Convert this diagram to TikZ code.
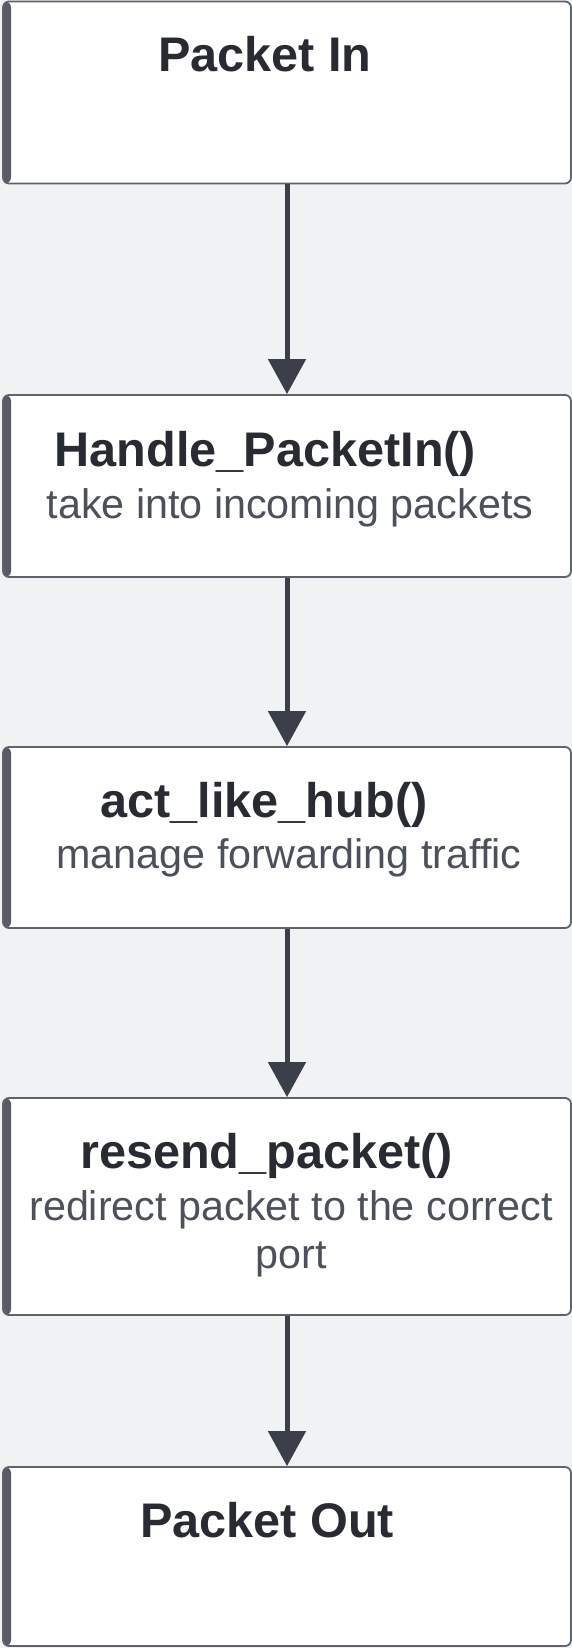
\documentclass[tikz,border=0pt]{standalone}
\usepackage{fontspec}
\setmainfont{Liberation Sans}
\usetikzlibrary{arrows.meta}
\definecolor{bgcol}{HTML}{F1F2F4}
\definecolor{bordercol}{HTML}{5E636E}
\definecolor{barcol}{HTML}{575B66}
\definecolor{arrowcol}{HTML}{3A3F4A}
\definecolor{titlecol}{HTML}{282B31}
\definecolor{subcol}{HTML}{4B505B}
\tikzset{
  procbox/.style={draw=bordercol, line width=1.8pt, fill=white, rounded corners=6pt,
    minimum width=568pt, inner sep=0pt,
    path picture={\fill[barcol] (path picture bounding box.north west) rectangle ([xshift=8pt]path picture bounding box.south west);}},
  titletext/.style={anchor=base, inner sep=0pt, text=titlecol, font=\fontsize{48.6}{56}\selectfont\bfseries},
  subtext/.style={anchor=base, inner sep=0pt, text=subcol, font=\fontsize{41.3}{48}\selectfont},
  flow/.style={draw=arrowcol, line width=5pt, -{Triangle[length=35pt,width=37pt]}, arrowcol}
}
\begin{document}
\begin{tikzpicture}[x=1pt,y=-1pt]
\fill[bgcol] (0,0) rectangle (572,1648);
\useasboundingbox (0,0) rectangle (572,1648);

\node[procbox, minimum height=182pt] (b1) at (287,92.5) {};
\node[procbox, minimum height=182pt] (b2) at (287,486) {};
\node[procbox, minimum height=181pt] (b3) at (287,837.5) {};
\node[procbox, minimum height=217pt] (b4) at (287,1206.5) {};
\node[procbox, minimum height=179pt] (b5) at (287,1556.5) {};

\node[titletext] (t1) at (265,71.5) {Packet In};
\node[titletext] (t2) at (265.5,466) {Handle\_PacketIn()};
\node[subtext] (s2) at (290,518) {take into incoming packets};
\node[titletext] (t3) at (264,817) {act\_like\_hub()};
\node[subtext] (s3) at (289,868.5) {manage forwarding traffic};
\node[titletext] (t4) at (266.5,1168) {resend\_packet()};
\node[subtext] (s4a) at (291,1220) {redirect packet to the correct};
\node[subtext] (s4b) at (291,1268) {port};
\node[titletext] (t5) at (267,1537) {Packet Out};

\draw[flow] (b1.south) -- (b2.north);
\draw[flow] (b2.south) -- (b3.north);
\draw[flow] (b3.south) -- (b4.north);
\draw[flow] (b4.south) -- (b5.north);
\end{tikzpicture}
\end{document}
